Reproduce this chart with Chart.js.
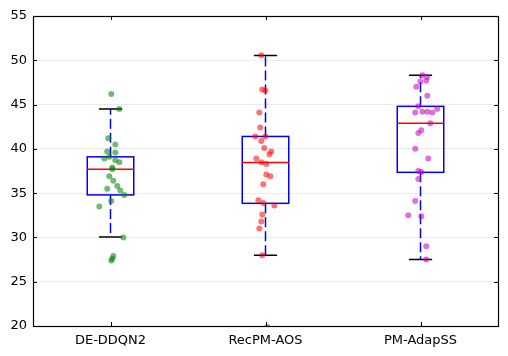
<!DOCTYPE html>
<html>
<head>
<meta charset="utf-8">
<script src="https://cdn.jsdelivr.net/npm/chart.js@4.4.0/dist/chart.umd.min.js"></script>
<style>
  html, body { margin: 0; padding: 0; background: #fff; }
  #wrap { width: 508px; height: 356px; }
</style>
</head>
<body>
<div id="wrap"><canvas id="boxChart"></canvas></div>
<script>
// categories
const cats = ['DE-DDQN2', 'RecPM-AOS', 'PM-AdapSS'];

// box stats
const whiskLo = [30.05, 28.0, 27.5];
const q1 = [34.8, 33.85, 37.35];
const med = [37.7, 38.45, 42.9];
const q3 = [39.1, 41.4, 44.8];
const whiskHi = [44.5, 50.55, 48.3];

// jittered points: x position (category units) and value
const ddqnX = [1.005, 1.057, 0.986, 1.031, 0.979, 1.031, 0.96, 0.992, 1.031, 1.057, 1.012, 1.012,
  0.992, 1.018, 1.044, 0.979, 1.063, 1.089, 1.005, 0.928, 1.083, 1.018, 1.012, 1.005];
const ddqnY = [46.2, 44.5, 41.2, 40.5, 39.7, 39.6, 38.9, 39.1, 38.7, 38.5, 37.9, 37.7,
  36.9, 36.4, 35.8, 35.5, 35.3, 34.8, 34.1, 33.5, 30.0, 27.9, 27.6, 27.4];

const recX = [1.973, 1.979, 1.999, 1.96, 1.966, 1.934, 1.999, 1.973, 1.992, 2.037, 2.025, 1.941, 1.973,
  2.005, 2.005, 2.031, 1.986, 1.954, 1.986, 2.057, 1.979, 1.973, 1.96, 1.979, 2.012];
const recY = [50.56, 46.7, 46.6, 44.1, 42.4, 41.4, 41.4, 40.9, 40.1, 39.7, 39.4, 38.9, 38.5,
  38.3, 37.1, 36.9, 36.0, 34.2, 33.9, 33.6, 32.6, 31.8, 31.0, 28.0, 19.9];

const pmX = [3.012, 3.044, 2.999, 3.037, 2.973, 3.044, 2.986, 2.966, 3.012, 3.044, 3.076, 3.108, 3.063,
  3.005, 2.986, 2.966, 3.05, 2.986, 3.005, 2.986, 2.966, 2.921, 3.005, 3.037, 3.037];
const pmY = [48.3, 48.1, 47.6, 47.7, 47.0, 46.0, 44.8, 44.1, 44.2, 44.2, 44.1, 44.5, 42.9,
  42.1, 41.8, 40.0, 38.9, 37.5, 37.4, 36.6, 34.1, 32.5, 32.4, 29.0, 27.5];

const yTicks = [20, 25, 30, 35, 40, 45, 50, 55];

const makeXY = (xs, ys) => xs.map((x, i) => ({x: x, y: ys[i]}));

// boxes + whiskers, drawn under the points
const boxPlugin = {
  id: 'boxes',
  beforeDatasetsDraw(chart) {
    const ctx = chart.ctx;
    const xs = chart.scales.x, ys = chart.scales.y;
    for (let i = 0; i < cats.length; i++) {
      const c = i + 1;
      const xl = xs.getPixelForValue(c - 0.15), xr = xs.getPixelForValue(c + 0.15);
      const xm = xs.getPixelForValue(c);
      const cl = xs.getPixelForValue(c - 0.075), cr = xs.getPixelForValue(c + 0.075);
      const yq1 = ys.getPixelForValue(q1[i]), yq3 = ys.getPixelForValue(q3[i]);
      const ylo = ys.getPixelForValue(whiskLo[i]), yhi = ys.getPixelForValue(whiskHi[i]);
      const ym = ys.getPixelForValue(med[i]);

      ctx.save();
      // whiskers
      ctx.strokeStyle = 'rgb(0, 0, 255)';
      ctx.lineWidth = 1.5;
      ctx.setLineDash([10, 4]);
      ctx.beginPath();
      ctx.moveTo(xm, yq1);
      ctx.lineTo(xm, ylo);
      ctx.stroke();
      ctx.beginPath();
      ctx.moveTo(xm, yq3);
      ctx.lineTo(xm, yhi);
      ctx.stroke();
      ctx.restore();

      ctx.save();
      // caps
      ctx.strokeStyle = 'rgb(0, 0, 0)';
      ctx.lineWidth = 1.5;
      ctx.beginPath();
      ctx.moveTo(cl, ylo); ctx.lineTo(cr, ylo);
      ctx.moveTo(cl, yhi); ctx.lineTo(cr, yhi);
      ctx.stroke();

      // box
      ctx.strokeStyle = 'rgb(0, 0, 255)';
      ctx.lineWidth = 1.5;
      ctx.strokeRect(xl, yq3, xr - xl, yq1 - yq3);

      // median
      ctx.strokeStyle = 'rgb(255, 0, 0)';
      ctx.lineWidth = 1.5;
      ctx.beginPath();
      ctx.moveTo(xl, ym); ctx.lineTo(xr, ym);
      ctx.stroke();
      ctx.restore();
    }
  },
  afterDraw(chart) {
    const ctx = chart.ctx;
    const a = chart.chartArea;
    const xs = chart.scales.x, ys = chart.scales.y;
    ctx.save();
    ctx.strokeStyle = '#000';
    ctx.lineWidth = 1;
    ctx.beginPath();
    // inside ticks
    yTicks.forEach(v => {
      const y = Math.round(ys.getPixelForValue(v)) + 0.5;
      ctx.moveTo(a.left, y); ctx.lineTo(a.left + 4, y);
      ctx.moveTo(a.right, y); ctx.lineTo(a.right - 4, y);
    });
    cats.forEach((c, i) => {
      const x = Math.round(xs.getPixelForValue(i + 1)) + 0.5;
      ctx.moveTo(x, a.bottom); ctx.lineTo(x, a.bottom - 4);
      ctx.moveTo(x, a.top); ctx.lineTo(x, a.top + 4);
    });
    ctx.stroke();
    ctx.lineWidth = 1.2;
    ctx.strokeRect(Math.round(a.left) + 0.5, Math.round(a.top) + 0.5,
      Math.round(a.right - a.left), Math.round(a.bottom - a.top));
    ctx.restore();
  }
};

const ctx = document.getElementById('boxChart');
new Chart(ctx, {
  type: 'scatter',
  data: {
    datasets: [
      {data: makeXY(ddqnX, ddqnY), backgroundColor: 'rgba(0, 128, 0, 0.55)'},
      {data: makeXY(recX, recY), backgroundColor: 'rgba(255, 0, 0, 0.55)'},
      {data: makeXY(pmX, pmY), backgroundColor: 'rgba(191, 0, 191, 0.55)'}
    ]
  },
  options: {
    responsive: true,
    maintainAspectRatio: false,
    animation: false,
    layout: {padding: {left: 0, right: 10, top: 16, bottom: 0}},
    elements: {point: {radius: 3, borderWidth: 0, hoverRadius: 3}},
    scales: {
      x: {
        type: 'linear',
        min: 0.5,
        max: 3.5,
        afterBuildTicks: s => { s.ticks = cats.map((c, i) => ({value: i + 1})); },
        afterFit: s => { s.height = 30; },
        grid: {display: false, drawTicks: false},
        border: {display: false},
        ticks: {
          callback: v => cats[v - 1],
          color: '#000',
          font: {family: 'DejaVu Sans', size: 13},
          padding: 7,
          maxRotation: 0
        }
      },
      y: {
        min: 20,
        max: 55,
        afterBuildTicks: s => { s.ticks = yTicks.map(v => ({value: v})); },
        afterFit: s => { s.width = 33; },
        grid: {color: '#ebebeb', drawTicks: false},
        border: {display: false},
        ticks: {
          color: '#000',
          font: {family: 'DejaVu Sans', size: 13},
          padding: 6
        }
      }
    },
    plugins: {
      legend: {display: false},
      tooltip: {enabled: false}
    }
  },
  plugins: [boxPlugin]
});
</script>
</body>
</html>
